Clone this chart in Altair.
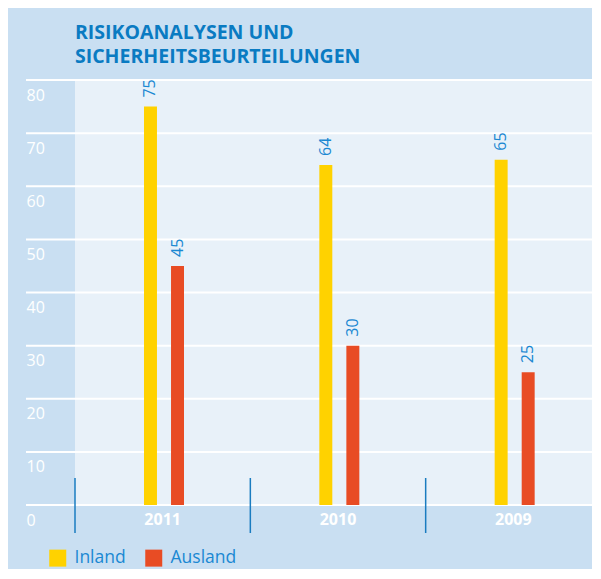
import altair as alt
import pandas as pd

# ---- data ----
years = ["2011", "2010", "2009"]
series = ["Inland", "Ausland"]
inland = [75, 64, 65]
ausland = [45, 30, 25]
y_ticks = [0, 10, 20, 30, 40, 50, 60, 70, 80]
title_lines = ["RISIKOANALYSEN UND", "SICHERHEITSBEURTEILUNGEN"]

# ---- styles ----
bar_colors = ["#ffd200", "#e84c24"]
outer_bg = "#c9dff2"
inner_bg = "#e8f1f9"
title_blue = "#0a7bc2"
label_blue = "#1a88d2"
sep_blue = "#1a7cc0"
FONT = "Open Sans"

rows = []
for i, yr in enumerate(years):
    rows.append({"year": yr, "series": series[0], "value": inland[i]})
    rows.append({"year": yr, "series": series[1], "value": ausland[i]})
df = pd.DataFrame(rows)
years_df = pd.DataFrame({"year": years})
grid_df = pd.DataFrame({"tick": y_ticks})

x_scale = alt.Scale(domain=years, paddingInner=0, paddingOuter=0)
xo_scale = alt.Scale(domain=series, paddingInner=0.52, paddingOuter=0, range=[69, 109])
y_scale = alt.Scale(domain=[0, 80], nice=False)

y_axis = alt.Axis(
    values=y_ticks, title=None, grid=False, domain=False, ticks=False,
    tickSize=0, labelColor="white", labelFontSize=16, labelFont=FONT,
    labelAlign="left", labelPadding=49, labelBaseline="middle",
    labelOffset=15,
)
x_axis = alt.Axis(
    title=None, domain=False, ticks=False, tickSize=0, labelAngle=0,
    labelColor="white", labelFontSize=16, labelFontWeight="bold",
    labelFont=FONT, labelPadding=14, labelBaseline="middle",
)

grid = alt.Chart(grid_df).mark_rule(color="white", strokeWidth=2).encode(
    y=alt.Y("tick:Q", scale=y_scale, axis=y_axis),
    x=alt.value(-49),
    x2=alt.value(526),
)

bars = alt.Chart(df).mark_bar().encode(
    x=alt.X("year:N", scale=x_scale, sort=years, axis=x_axis),
    xOffset=alt.XOffset("series:N", scale=xo_scale, sort=series),
    y=alt.Y("value:Q", scale=y_scale, axis=y_axis),
    color=alt.Color(
        "series:N",
        scale=alt.Scale(domain=series, range=bar_colors),
        sort=series,
        legend=alt.Legend(
            orient="none", legendX=-26, legendY=469, direction="horizontal",
            title=None, symbolType="square", symbolSize=289, symbolStrokeWidth=0,
            symbolOpacity=1, labelFontSize=17.5, labelColor=label_blue,
            labelFont=FONT, labelOffset=8, columnPadding=19, padding=0,
        ),
    ),
)

labels = alt.Chart(df).mark_text(
    angle=270, align="left", baseline="middle", dx=9, fontSize=16,
    font=FONT, color=label_blue,
).encode(
    x=alt.X("year:N", scale=x_scale, sort=years, axis=x_axis),
    xOffset=alt.XOffset("series:N", scale=xo_scale, sort=series),
    y=alt.Y("value:Q", scale=y_scale, axis=y_axis),
    text=alt.Text("value:Q"),
)

seps = alt.Chart(years_df).mark_rule(color=sep_blue, strokeWidth=1.5).encode(
    x=alt.X("year:N", scale=x_scale, sort=years, bandPosition=0, axis=x_axis),
    y=alt.value(398),
    y2=alt.value(453),
)

chart = alt.layer(grid, bars, labels, seps).properties(
    width=526,
    height=425,
    autosize=alt.AutoSizeParams(type="none"),
    padding={"left": 67, "top": 72, "right": -9, "bottom": 64},
    background=outer_bg,
    title=alt.TitleParams(
        text=title_lines, anchor="start", frame="group", font=FONT,
        fontSize=19.5, fontWeight="bold", color=title_blue, lineHeight=24,
        offset=12,
    ),
).configure_view(stroke=None, fill=inner_bg)

chart.save("out.html", embed_options={"renderer": "svg", "actions": False})
